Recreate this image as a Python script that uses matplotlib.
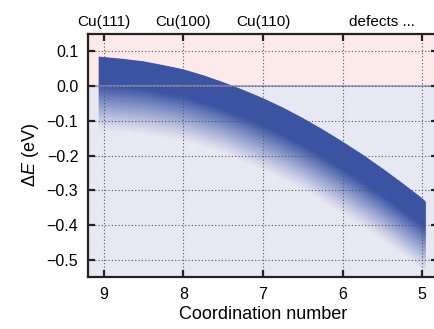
import numpy as np
import matplotlib.pyplot as plt
from matplotlib.colors import to_rgb

plt.rcParams['font.family'] = ['Liberation Sans', 'DejaVu Sans']
plt.rcParams['mathtext.fontset'] = 'custom'
plt.rcParams['mathtext.rm'] = 'Liberation Sans'
plt.rcParams['mathtext.it'] = 'Liberation Sans:italic'

# upper edge of the binding-energy band
cn_top = [9.07, 8.75, 8.5, 8.25, 8.0, 7.75, 7.5, 7.25, 7.0, 6.75, 6.5,
          6.25, 6.0, 5.75, 5.5, 5.25, 5.0, 4.95]
dE_top = [0.086, 0.079, 0.072, 0.061, 0.049, 0.032, 0.012, -0.010, -0.034,
          -0.061, -0.091, -0.124, -0.159, -0.196, -0.236, -0.278, -0.322, -0.333]

# lowest (faintest) edge of the ensemble spread
cn_low = [9.07, 8.5, 8.0, 7.5, 7.0, 6.5, 6.0, 5.5, 5.0, 4.95]
dE_low = [-0.13, -0.14, -0.16, -0.195, -0.245, -0.30, -0.37, -0.445, -0.53, -0.54]

facet_pos = [9, 8, 7, 5.5]
facet_names = ['Cu(111)', 'Cu(100)', 'Cu(110)', 'defects ...']

xticks = [9, 8, 7, 6, 5]
yticks = [0.1, 0.0, -0.1, -0.2, -0.3, -0.4, -0.5]

blue = '#3b54a4'

fig = plt.figure(figsize=(4.35, 3.29), dpi=100)
ax = fig.add_axes([88/435, 52/329, 350/435, 243/329])

xlim = (9.2, 4.8)
ylim = (-0.55, 0.15)

ax.axhspan(0, ylim[1], color='#fde9e9', zorder=0)
ax.axhspan(ylim[0], 0, color='#e8e8f3', zorder=0)

# gradient band: opaque near the top curve, fading towards the lower edge
cn_sorted = np.array(cn_top[::-1])
top_sorted = np.array(dE_top[::-1])
low_sorted_x = np.array(cn_low[::-1])
low_sorted = np.array(dE_low[::-1])

nx, ny = 900, 700
gx = np.linspace(xlim[1], xlim[0], nx)
gy = np.linspace(ylim[0], ylim[1], ny)
X, Y = np.meshgrid(gx, gy)
T = np.interp(X, cn_sorted, top_sorted)
B = np.interp(X, low_sorted_x, low_sorted)
f = (T - Y) / (T - B)
alpha = np.where(f < 0.38, 1.0, np.clip((1 - f) / 0.62, 0, 1) ** 1.15)
alpha[(f < 0) | (f > 1)] = 0
alpha[(X < min(cn_top)) | (X > max(cn_top))] = 0
rgba = np.zeros((ny, nx, 4))
rgba[..., :3] = to_rgb(blue)
rgba[..., 3] = alpha
im = ax.imshow(rgba, extent=[gx[0], gx[-1], gy[0], gy[-1]], origin='lower',
               aspect='auto', interpolation='bilinear', zorder=1)

band = ax.fill_between(cn_sorted, top_sorted,
                       np.interp(cn_sorted, low_sorted_x, low_sorted),
                       facecolor='none', edgecolor='none')
clip = band.get_paths()[0]
im.set_clip_path(clip, ax.transData)

ax.axhline(0, color='#9090b4', lw=1.4, alpha=0.75, zorder=2)

ax.set_xlim(*xlim)
ax.set_ylim(*ylim)
ax.set_xticks(xticks)
ax.set_yticks(yticks)
ax.set_xticklabels([str(t) for t in xticks])
ax.set_yticklabels(['%.1f' % t if t >= 0 else '\u2212%.1f' % abs(t) for t in yticks])
ax.grid(True, color='#555555', linestyle=(0, (1, 2)), lw=0.8, zorder=3)
ax.set_axisbelow(False)

ax.tick_params(direction='in', top=True, right=True, length=5, width=1.6,
               colors='#222222', labelsize=11.5, pad=7, labelcolor='black')
for s in ax.spines.values():
    s.set_linewidth(1.6)
    s.set_color('#222222')

ax.set_xlabel('Coordination number', fontsize=13, labelpad=3)
ax.set_ylabel(r'$\Delta E$ (eV)', fontsize=13, labelpad=4)

for p, name in zip(facet_pos, facet_names):
    ax.text(p, 1.022, name, transform=ax.get_xaxis_transform(),
            ha='center', va='bottom', fontsize=11)

fig.savefig('out.png', dpi=100)
